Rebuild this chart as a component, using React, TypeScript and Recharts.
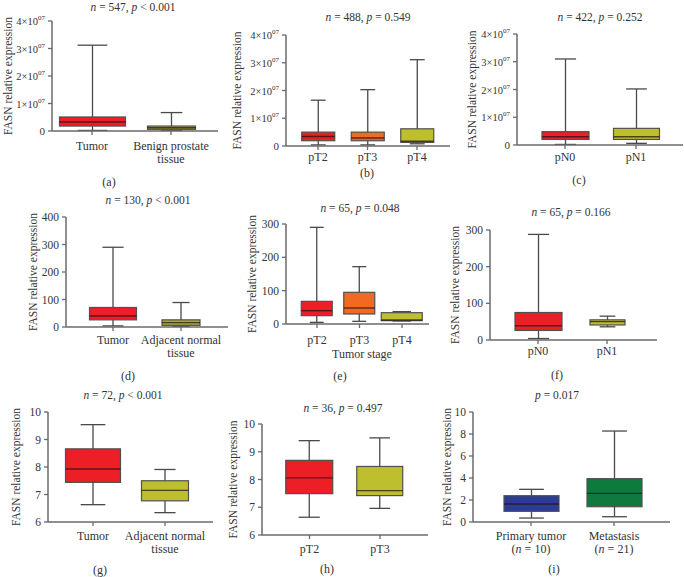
import { Bar, ComposedChart, XAxis, YAxis } from "recharts";

const FONT = "'Liberation Serif', 'DejaVu Serif', serif";
const AXIS = "#6a6a6a";
const RED = "#ec1f26";
const OLIVE = "#bdbf2e";
const ORANGE = "#f26a21";
const BLUE = "#2d3a96";
const GREEN = "#0f7a3e";

// five-number summaries: [min, q1, median, q3, max]
const aGroups = ["Tumor", "Benign prostate\ntissue"];
const aTumor = [0.02e7, 0.18e7, 0.33e7, 0.51e7, 3.12e7];
const aBenign = [0.02e7, 0.06e7, 0.12e7, 0.18e7, 0.67e7];

const bGroups = ["pT2", "pT3", "pT4"];
const bT2 = [0.04e7, 0.19e7, 0.34e7, 0.5e7, 1.65e7];
const bT3 = [0.04e7, 0.19e7, 0.29e7, 0.5e7, 2.03e7];
const bT4 = [0.08e7, 0.13e7, 0.17e7, 0.62e7, 3.11e7];

const cGroups = ["pN0", "pN1"];
const cN0 = [0.02e7, 0.2e7, 0.3e7, 0.48e7, 3.1e7];
const cN1 = [0.06e7, 0.2e7, 0.3e7, 0.6e7, 2.02e7];

const dGroups = ["Tumor", "Adjacent normal\ntissue"];
const dTumor = [4, 26, 40, 71, 290];
const dNormal = [2, 6, 16, 26, 89];

const eGroups = ["pT2", "pT3", "pT4"];
const eT2 = [5, 25, 40, 68, 290];
const eT3 = [8, 30, 48, 95, 172];
const eT4 = [9, 10, 12, 34, 37];

const fGroups = ["pN0", "pN1"];
const fN0 = [4, 26, 39, 75, 288];
const fN1 = [36, 41, 50, 55, 65];

const gGroups = ["Tumor", "Adjacent normal\ntissue"];
const gTumor = [6.63, 7.44, 7.93, 8.66, 9.54];
const gNormal = [6.34, 6.77, 7.15, 7.5, 7.91];

const hGroups = ["pT2", "pT3"];
const hT2 = [6.64, 7.49, 8.06, 8.69, 9.4];
const hT3 = [6.96, 7.42, 7.6, 8.47, 9.5];

const iGroups = ["Primary tumor\n(n = 10)", "Metastasis\n(n = 21)"];
const iPrimary = [0.36, 0.97, 1.64, 2.39, 2.97];
const iMeta = [0.48, 1.39, 2.6, 3.94, 8.27];

const sciTicks = [0, 1e7, 2e7, 3e7, 4e7];

// italic for the statistic letters n and p
function Ital({ text, svg }: { text: string; svg?: boolean }) {
  const parts = text.split(/\b([np])\b/);
  return (
    <>
      {parts.map((s, i) =>
        i % 2 === 1 ? (
          svg ? (
            <tspan key={i} fontStyle="italic">{s}</tspan>
          ) : (
            <i key={i}>{s}</i>
          )
        ) : (
          s
        )
      )}
    </>
  );
}

function SciTick(props: any) {
  const { x, y, payload } = props;
  const v = payload.value;
  if (v === 0) {
    return (
      <text x={x} y={y} dy={4} textAnchor="end" fontSize={11} fill="#333" fontFamily={FONT}>0</text>
    );
  }
  return (
    <text x={x} y={y} dy={4} textAnchor="end" fontSize={10.5} fill="#333" fontFamily={FONT}>
      {v / 1e7}×10<tspan dy={-5} fontSize={7}>07</tspan>
    </text>
  );
}

function CatTick(props: any) {
  const { x, y, payload, off } = props;
  const lines = String(payload.value).split("\n");
  return (
    <g>
      {lines.map((ln, i) => (
        <text key={i} x={x} y={y - 6 + off + 4 + i * 13} textAnchor="middle" fontSize={12} fill="#333" fontFamily={FONT}>
          <Ital text={ln} svg />
        </text>
      ))}
    </g>
  );
}

function BoxShape(props: any) {
  const { x, y, width, height, payload, fillColor, boxW } = props;
  const top = Math.min(y, y + height);
  const h = Math.abs(height);
  const span = payload.max - payload.min;
  const py = (v: number) => top + ((payload.max - v) / span) * h;
  const cx = x + width / 2;
  const cap = boxW * 0.45;
  return (
    <g>
      <line x1={cx} x2={cx} y1={py(payload.max)} y2={py(payload.min)} stroke="#4a4a4a" strokeWidth={1.3} />
      <line x1={cx - cap / 2} x2={cx + cap / 2} y1={py(payload.max)} y2={py(payload.max)} stroke="#4a4a4a" strokeWidth={1.3} />
      <line x1={cx - cap / 2} x2={cx + cap / 2} y1={py(payload.min)} y2={py(payload.min)} stroke="#4a4a4a" strokeWidth={1.3} />
      <rect
        x={cx - boxW / 2}
        y={py(payload.q3)}
        width={boxW}
        height={py(payload.q1) - py(payload.q3)}
        fill={fillColor}
        stroke="#505050"
        strokeWidth={1.2}
      />
      <line
        x1={cx - boxW / 2}
        x2={cx + boxW / 2}
        y1={py(payload.med)}
        y2={py(payload.med)}
        stroke="rgba(40,20,20,0.75)"
        strokeWidth={1.4}
      />
    </g>
  );
}

type Layout = {
  axisX: number;
  right: number;
  top: number;
  bottom: number;
  labelX: number;
  centers: number[];
  widths: number[];
  tickOff: number;
  title: [number, number];
  letter: [number, number];
};

function Panel(props: {
  groups: string[];
  stats: number[][];
  colors: string[];
  domain: [number, number];
  ticks: number[];
  sci?: boolean;
  title: string;
  letter: string;
  xTitle?: [string, number, number];
  layout: Layout;
}) {
  const { groups, stats, colors, domain, ticks, sci, title, letter, xTitle, layout } = props;
  const rows = groups.map((g, i) => {
    const [min, q1, med, q3, max] = stats[i];
    return { name: g, range: [min, max], min, q1, med, q3, max };
  });
  const mt = 14;
  const chartLeft = layout.labelX - 8;
  const yw = layout.axisX - chartLeft;
  const width = layout.right - chartLeft + 2;
  const xh = 40;
  const height = mt + layout.bottom - layout.top + xh;
  const n = groups.length;
  const c0 = layout.centers[0];
  const c1 = layout.centers[n - 1];
  const band = (c1 - c0) / (n - 1);
  const pl = c0 - band / 2 - layout.axisX;
  const pr = layout.right - (c1 + band / 2);
  const textStyle = {
    position: "absolute" as const,
    transform: "translateX(-50%)",
    whiteSpace: "nowrap" as const,
    fontFamily: FONT,
    fontSize: 11.5,
    lineHeight: "12px",
    color: "#333",
  };
  return (
    <>
      <div style={{ ...textStyle, left: layout.title[0], top: layout.title[1] - 6 }}>
        <Ital text={title} />
      </div>
      <div style={{ ...textStyle, fontSize: 12, left: layout.letter[0], top: layout.letter[1] - 6 }}>{letter}</div>
      {xTitle && (
        <div style={{ ...textStyle, fontSize: 12, left: xTitle[1], top: xTitle[2] - 6 }}>{xTitle[0]}</div>
      )}
      <div style={{ position: "absolute", left: chartLeft, top: layout.top - mt }}>
        <ComposedChart width={width} height={height} data={rows} margin={{ top: mt, right: 2, left: 0, bottom: 0 }}>
          <XAxis
            dataKey="name"
            height={xh}
            interval={0}
            padding={{ left: pl, right: pr }}
            tickSize={4}
            tickLine={{ stroke: AXIS, strokeWidth: 1.3 }}
            axisLine={{ stroke: AXIS, strokeWidth: 1.5 }}
            tick={<CatTick off={layout.tickOff} />}
          />
          <YAxis
            type="number"
            width={yw}
            domain={domain}
            ticks={ticks}
            interval={0}
            allowDataOverflow
            tickSize={4}
            tickMargin={3}
            tickLine={{ stroke: AXIS, strokeWidth: 1.3 }}
            axisLine={{ stroke: AXIS, strokeWidth: 1.5 }}
            tick={sci ? <SciTick /> : { fontSize: 11.5, fill: "#333", fontFamily: FONT }}
            label={{
              value: "FASN relative expression",
              angle: -90,
              position: "insideLeft",
              offset: 8,
              style: { textAnchor: "middle", fontSize: 11.5, fill: "#333", fontFamily: FONT },
            }}
          />
          <Bar
            dataKey="range"
            barSize={20}
            isAnimationActive={false}
            shape={(p: any) => {
              const idx = groups.indexOf(p.payload.name);
              return <BoxShape {...p} fillColor={colors[idx]} boxW={layout.widths[idx]} />;
            }}
          />
        </ComposedChart>
      </div>
    </>
  );
}

export default function App() {
  return (
    <div style={{ position: "absolute", left: 0, top: 0, width: 684, height: 577, background: "#fff", overflow: "hidden" }}>
      <Panel
        groups={aGroups}
        stats={[aTumor, aBenign]}
        colors={[RED, "#a9aa2c"]}
        domain={[0, 4e7]}
        ticks={sciTicks}
        sci
        title="n = 547, p < 0.001"
        letter="(a)"
        layout={{ axisX: 52, right: 218, top: 21, bottom: 131, labelX: 8, centers: [92, 171], widths: [66, 48], tickOff: 15, title: [133, 7], letter: [109, 182] }}
      />
      <Panel
        groups={bGroups}
        stats={[bT2, bT3, bT4]}
        colors={[RED, ORANGE, OLIVE]}
        domain={[0, 4e7]}
        ticks={sciTicks}
        sci
        title="n = 488, p = 0.549"
        letter="(b)"
        layout={{ axisX: 286, right: 450, top: 35, bottom: 146, labelX: 237, centers: [318, 367, 417], widths: [33, 33, 33], tickOff: 11, title: [368, 17], letter: [367, 173] }}
      />
      <Panel
        groups={cGroups}
        stats={[cN0, cN1]}
        colors={[RED, OLIVE]}
        domain={[0, 4e7]}
        ticks={sciTicks}
        sci
        title="n = 422, p = 0.252"
        letter="(c)"
        layout={{ axisX: 517, right: 683, top: 34, bottom: 145, labelX: 472, centers: [565, 636], widths: [47, 46], tickOff: 12, title: [600, 17], letter: [579, 180] }}
      />
      <Panel
        groups={dGroups}
        stats={[dTumor, dNormal]}
        colors={[RED, "#a9aa2c"]}
        domain={[0, 400]}
        ticks={[0, 100, 200, 300, 400]}
        title="n = 130, p < 0.001"
        letter="(d)"
        layout={{ axisX: 66, right: 228, top: 217, bottom: 327, labelX: 33, centers: [113, 181], widths: [47, 38], tickOff: 13, title: [148, 200], letter: [128, 376] }}
      />
      <Panel
        groups={eGroups}
        stats={[eT2, eT3, eT4]}
        colors={[RED, ORANGE, OLIVE]}
        domain={[0, 300]}
        ticks={[0, 100, 200, 300]}
        title="n = 65, p = 0.048"
        letter="(e)"
        xTitle={["Tumor stage", 362, 354]}
        layout={{ axisX: 286, right: 429, top: 224, bottom: 324, labelX: 252, centers: [317, 359.5, 402], widths: [31, 31, 41], tickOff: 16, title: [360, 208], letter: [340, 376] }}
      />
      <Panel
        groups={fGroups}
        stats={[fN0, fN1]}
        colors={[RED, OLIVE]}
        domain={[0, 300]}
        ticks={[0, 100, 200, 300]}
        title="n = 65, p = 0.166"
        letter="(f)"
        layout={{ axisX: 490, right: 657, top: 230, bottom: 340, labelX: 455, centers: [538, 607], widths: [47, 35], tickOff: 11, title: [571, 212], letter: [557, 375] }}
      />
      <Panel
        groups={gGroups}
        stats={[gTumor, gNormal]}
        colors={[RED, OLIVE]}
        domain={[6, 10]}
        ticks={[6, 7, 8, 9, 10]}
        title="n = 72, p < 0.001"
        letter="(g)"
        layout={{ axisX: 48, right: 213, top: 412, bottom: 522, labelX: 16, centers: [93, 165], widths: [55, 47], tickOff: 14, title: [123, 395], letter: [100, 570] }}
      />
      <Panel
        groups={hGroups}
        stats={[hT2, hT3]}
        colors={[RED, OLIVE]}
        domain={[6, 10]}
        ticks={[6, 7, 8, 9, 10]}
        title="n = 36, p = 0.497"
        letter="(h)"
        layout={{ axisX: 262, right: 428, top: 424, bottom: 535, labelX: 233, centers: [309.5, 380], widths: [47, 46], tickOff: 14, title: [343, 408], letter: [327, 569] }}
      />
      <Panel
        groups={iGroups}
        stats={[iPrimary, iMeta]}
        colors={[BLUE, GREEN]}
        domain={[0, 10]}
        ticks={[0, 2, 4, 6, 8, 10]}
        title="p = 0.017"
        letter="(i)"
        layout={{ axisX: 473, right: 670, top: 412, bottom: 522, labelX: 447, centers: [531, 614], widths: [55, 55], tickOff: 14, title: [557, 395], letter: [554, 569] }}
      />
    </div>
  );
}
